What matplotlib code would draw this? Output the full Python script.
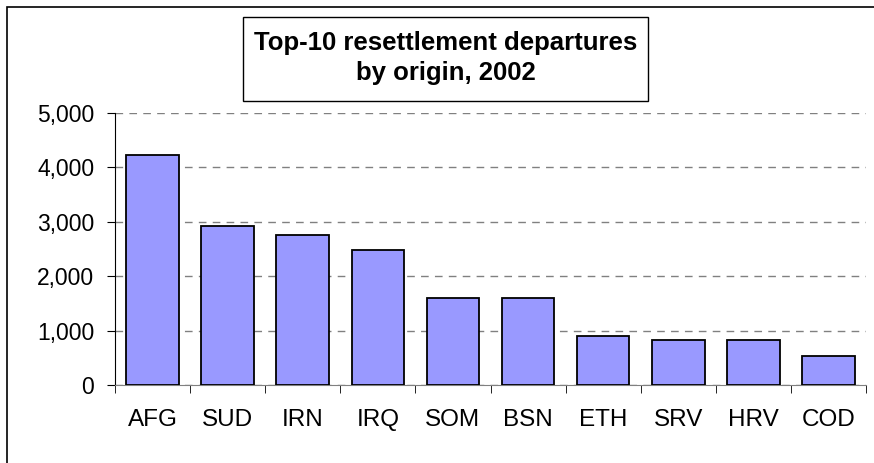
import matplotlib
matplotlib.use("Agg")
import matplotlib.pyplot as plt
import numpy as np
from matplotlib.patches import Rectangle

countries = ["AFG", "SUD", "IRN", "IRQ", "SOM", "BSN", "ETH", "SRV", "HRV", "COD"]
departures = [4230, 2930, 2750, 2490, 1595, 1595, 895, 828, 828, 528]
yticks = [0, 1000, 2000, 3000, 4000, 5000]
title = "Top-10 resettlement departures\nby origin, 2002"

plt.rcParams["font.family"] = ["Liberation Sans", "DejaVu Sans"]

fig = plt.figure(figsize=(8.74, 4.63), dpi=100)
ax = fig.add_axes([115 / 874, 78 / 463, 751 / 874, 272 / 463])

x = np.arange(len(countries))
ax.bar(x, departures, width=0.7, color="#9999FF", edgecolor="black",
       linewidth=1.3, zorder=3)

ax.set_xlim(-0.5, len(countries) - 0.5)
ax.set_ylim(0, 5000)
ax.set_yticks(yticks)
ax.set_yticklabels([f"{v:,}" for v in yticks], fontsize=16.5)
ax.yaxis.grid(True, linestyle=(0, (5.5, 4.5)), color="#808080", linewidth=1, zorder=0)

# category labels centred, tick marks between categories
ax.set_xticks(x)
ax.set_xticklabels(countries, fontsize=17.5)
ax.tick_params(axis="x", length=0, pad=17)
ax.set_xticks(np.arange(-0.5, len(countries)), minor=True)
ax.tick_params(axis="x", which="minor", length=6, direction="out", color="black")
ax.tick_params(axis="y", length=6, direction="out", pad=9)

for s in ["top", "right"]:
    ax.spines[s].set_visible(False)
ax.spines["left"].set_color("black")
ax.spines["bottom"].set_color("#808080")

# outer chart border (clipped at right/bottom like the source)
fig.patches.append(Rectangle((7 / 874, -0.1), 1.2, (463 - 7) / 463 + 0.1,
                             transform=fig.transFigure, fill=False,
                             edgecolor="black", linewidth=1.2))

fig.text(446 / 874, 1 - 58 / 463, title, ha="center", va="center",
         fontsize=18.5, fontweight="bold", linespacing=1.32)
fig.patches.append(Rectangle((243 / 874, 1 - 101 / 463), 405 / 874, 84 / 463,
                             transform=fig.transFigure, fill=False,
                             edgecolor="black", linewidth=1.0))

fig.savefig("out.png", dpi=100)
